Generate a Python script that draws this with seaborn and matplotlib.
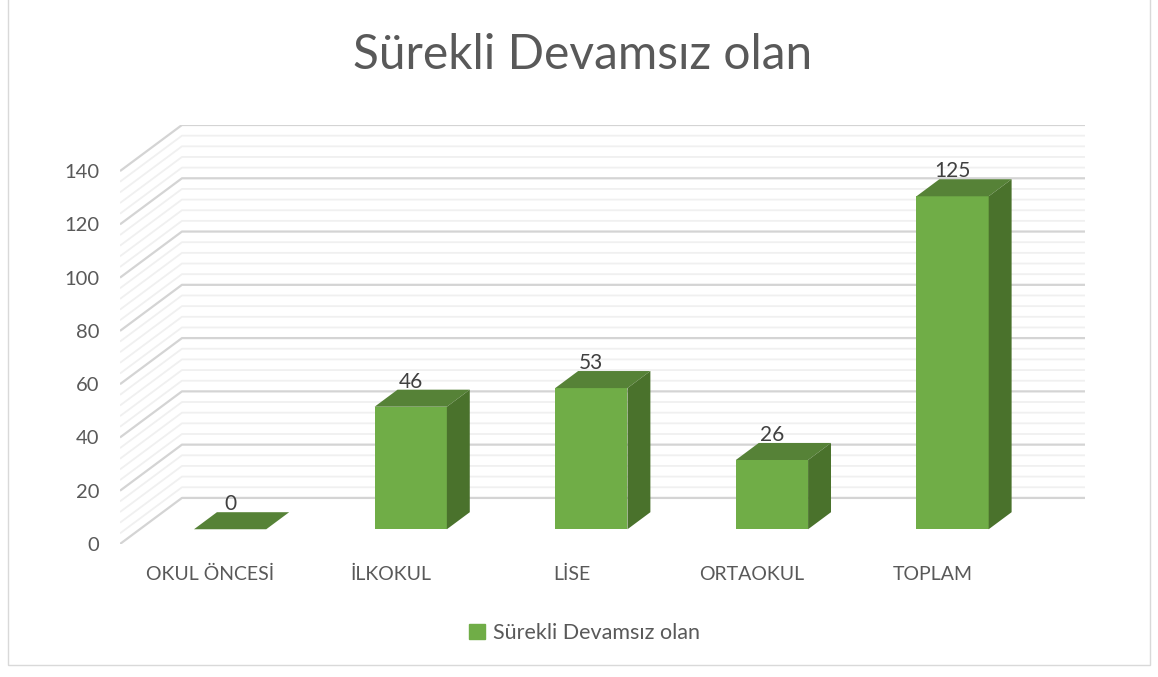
import matplotlib
matplotlib.use("Agg")
import matplotlib.pyplot as plt
from matplotlib.patches import Rectangle, Patch
import seaborn as sns
import numpy as np

categories = ["OKUL ÖNCESİ", "İLKOKUL", "LİSE", "ORTAOKUL", "TOPLAM"]
values = [0, 46, 53, 26, 125]
series_name = "Sürekli Devamsız olan"
y_ticks = list(range(0, 141, 20))
minor_step = 4

front_col = "#70AD47"
top_col = "#568237"
side_col = "#4A722C"
text_col = "#595959"

# fake 3d: depth offsets in data units
DX = 0.343
DY = 17.3
d_front, d_back = 0.32, 0.69
bar_w = 0.40

sns.set_style("white")
plt.rcParams["font.family"] = ["Lato", "DejaVu Sans"]

fig = plt.figure(figsize=(11.58, 6.77), dpi=100)
ax = fig.add_axes([120 / 1158, 1 - 544 / 677, 965 / 1158, 419 / 677])

sns.barplot(x=categories, y=values, color=front_col, width=bar_w,
            saturation=1, ax=ax, zorder=3, linewidth=0)

# walls / gridlines
for v in range(0, y_ticks[-1] + 1, minor_step):
    major = v % 20 == 0
    ax.plot([-0.5, -0.5 + DX, len(categories) - 0.5 + DX], [v, v + DY, v + DY],
            color="#d4d4d4" if major else "#f0f0f0",
            lw=1.6 if major else 1.3, zorder=1, solid_capstyle="butt")

for p, v in zip(ax.patches, values):
    x0 = p.get_x() + d_front * DX
    w = p.get_width()
    yb = d_front * DY
    p.set_x(x0)
    p.set_y(yb)
    dd = (d_back - d_front)
    top = v + yb
    ax.fill([x0, x0 + w, x0 + w + dd * DX, x0 + dd * DX],
            [top, top, top + dd * DY, top + dd * DY], color=top_col, lw=0, zorder=4)
    ax.fill([x0 + w, x0 + w + dd * DX, x0 + w + dd * DX, x0 + w],
            [yb, yb + dd * DY, top + dd * DY, top], color=side_col, lw=0, zorder=4)
    ax.text(x0 + w / 2, top + dd * DY - 0.8, str(v), ha="center", va="bottom",
            fontsize=15, color="#404040", zorder=5)

ax.set_xlim(-0.5, len(categories) - 0.5 + DX)
ax.set_ylim(0, y_ticks[-1] + DY)
ax.set_yticks(y_ticks)
ax.set_xticks(range(len(categories)))
ax.set_xticklabels(categories)
ax.tick_params(axis="y", length=0, pad=15, labelsize=14.5, labelcolor=text_col)
ax.tick_params(axis="x", length=0, pad=16, labelsize=14, labelcolor=text_col)
ax.set_xlabel("")
ax.set_ylabel("")
sns.despine(ax=ax, left=True, bottom=True)
ax.patch.set_alpha(0)

fig.text(0.503, 1 - 55 / 677, series_name, ha="center", va="center",
         fontsize=34.5, color=text_col)

fig.legend(handles=[Patch(color=front_col, label=series_name)], loc="center",
           bbox_to_anchor=(0.505, 1 - 633 / 677), frameon=False, fontsize=15.5,
           labelcolor=text_col, handlelength=0.7, handleheight=0.7,
           handletextpad=0.4)

fig.patches.append(Rectangle((8 / 1158, 1 - 665 / 677), 1142 / 1158, 670 / 677,
                             transform=fig.transFigure, fill=False,
                             edgecolor="#d9d9d9", lw=1))

fig.savefig("out.png", dpi=100)
